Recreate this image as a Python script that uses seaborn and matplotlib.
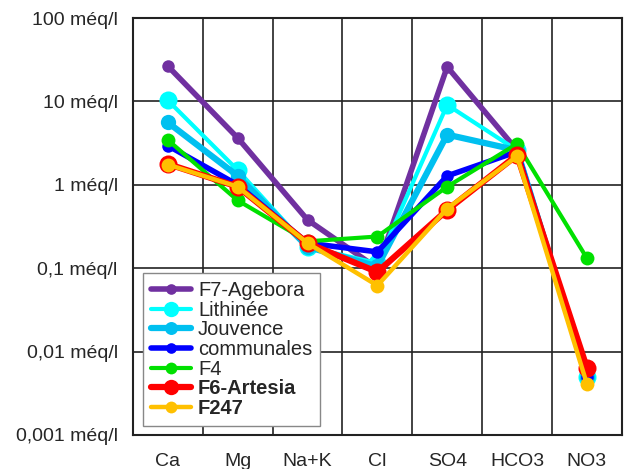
import numpy as np
import pandas as pd
import matplotlib
matplotlib.use("Agg")
import matplotlib.pyplot as plt
from matplotlib.ticker import FixedLocator, NullFormatter
import seaborn as sns

# ions along the x axis
ions = ["Ca", "Mg", "Na+K", "Cl", "SO4", "HCO3", "NO3"]

# concentrations in meq/l
f7_agebora = [26.5, 3.65, 0.38, 0.10, 26.0, 2.6, 0.005]
lithinee = [10.3, 1.5, 0.18, 0.115, 9.1, 2.6, 0.005]
jouvence = [5.6, 1.28, 0.18, 0.105, 4.0, 2.6, 0.0049]
communales = [2.95, 1.0, 0.20, 0.157, 1.28, 2.5, 0.005]
f4 = [3.45, 0.65, 0.21, 0.24, 0.95, 3.1, 0.132]
f6_artesia = [1.78, 0.95, 0.20, 0.09, 0.50, 2.27, 0.0064]
f247 = [1.75, 0.95, 0.20, 0.062, 0.52, 2.2, 0.0041]

series = {
    "F7-Agebora": f7_agebora,
    "Lithinée": lithinee,
    "Jouvence": jouvence,
    "communales": communales,
    "F4": f4,
    "F6-Artesia": f6_artesia,
    "F247": f247,
}

styles = {
    "F7-Agebora": dict(color="#7030a0", lw=4, ms=9),
    "Lithinée": dict(color="#00ffff", lw=3, ms=13),
    "Jouvence": dict(color="#00c0f0", lw=4.5, ms=11),
    "communales": dict(color="#0000ff", lw=4, ms=9),
    "F4": dict(color="#00e000", lw=3, ms=10),
    "F6-Artesia": dict(color="#ff0000", lw=4.5, ms=13),
    "F247": dict(color="#ffc000", lw=3.2, ms=10),
}

rows = []
for name, vals in series.items():
    for i, v in enumerate(vals):
        rows.append({"serie": name, "pos": i, "val": v})
df = pd.DataFrame(rows)

sns.set_style("white")
plt.rcParams["font.family"] = ["Liberation Sans", "DejaVu Sans"]

fig = plt.figure(figsize=(6.3, 4.69), dpi=100)
ax = fig.add_axes([0.211, 0.0725, 0.776, 0.889])

for name in series:
    st = styles[name]
    sub = df[df["serie"] == name]
    sns.lineplot(data=sub, x="pos", y="val", ax=ax, color=st["color"],
                 linewidth=st["lw"], marker="o", markersize=st["ms"],
                 markeredgewidth=0, label=name, sort=False)

ax.set_yscale("log")
ax.set_ylim(0.001, 100)
ax.set_xlim(-0.5, len(ions) - 0.5)

yt = [0.001, 0.01, 0.1, 1, 10, 100]
ax.yaxis.set_major_locator(FixedLocator(yt))
ax.yaxis.set_minor_formatter(NullFormatter())
ax.yaxis.set_minor_locator(FixedLocator([]))
ax.set_yticklabels(["0,001 méq/l", "0,01 méq/l", "0,1 méq/l", "1 méq/l",
                    "10 méq/l", "100 méq/l"], fontsize=14)

ax.set_xticks(range(len(ions)))
ax.set_xticklabels(ions, fontsize=14)
ax.xaxis.set_minor_locator(FixedLocator(np.arange(0.5, len(ions) - 0.5, 1)))

ax.grid(True, which="major", axis="y", color="#222222", lw=1.2)
ax.grid(True, which="minor", axis="x", color="#222222", lw=1.2)
ax.grid(False, which="major", axis="x")
ax.tick_params(axis="both", which="both", length=0)
ax.tick_params(axis="x", pad=13)
ax.tick_params(axis="y", pad=11)
ax.set_xlabel("")
ax.set_ylabel("")
for sp in ax.spines.values():
    sp.set_color("#222222")
    sp.set_linewidth(1.5)

leg = ax.legend(loc="lower left", bbox_to_anchor=(0.02, 0.022), fontsize=14.5,
                frameon=True, fancybox=False, edgecolor="#888888",
                handlelength=2.0, handletextpad=0.35, labelspacing=0.03,
                borderpad=0.4, borderaxespad=0, framealpha=1,
                markerscale=0.85)
for t in leg.get_texts():
    if t.get_text() in ("F6-Artesia", "F247"):
        t.set_fontweight("bold")

fig.savefig("out.png", dpi=100)
